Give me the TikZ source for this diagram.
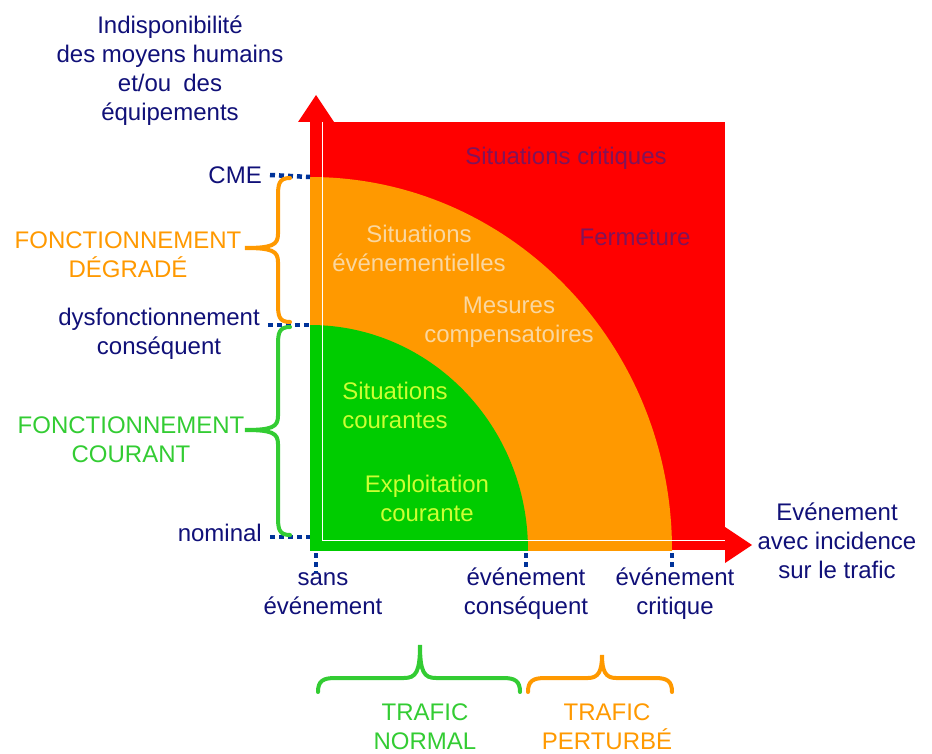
\documentclass[tikz,border=0pt]{standalone}
\usepackage{fontspec}
\setmainfont{Liberation Sans}
\usepackage{tikz}
\definecolor{bleunuit}{RGB}{16,16,120}
\definecolor{bleutick}{RGB}{0,51,153}
\definecolor{rouge}{RGB}{255,0,0}
\definecolor{orangef}{RGB}{255,153,0}
\definecolor{vertf}{RGB}{0,204,0}
\definecolor{vertc}{RGB}{51,204,51}
\definecolor{beige}{RGB}{250,215,160}
\definecolor{jaunevert}{RGB}{204,255,51}
\definecolor{pourpre}{RGB}{128,20,90}
\tikzset{
  txt/.style={inner sep=0pt, align=center, font=\fontsize{24}{29}\selectfont},
  axlabel/.style={txt, text=bleunuit},
  tick/.style={bleutick, line width=4.5pt, dash pattern=on 5pt off 4pt},
  bracket/.style={line width=4pt, line cap=round},
}

\begin{document}
\begin{tikzpicture}[x=1pt,y=-1pt]
\useasboundingbox (0,0) rectangle (932,754);
% zones
\fill[rouge] (310,122) rectangle (725,550);
\begin{scope}
\clip (310,122) rectangle (725,550);
\fill[orangef] (310,550) ellipse[x radius=362pt, y radius=373pt];
\fill[vertf] (310,550) ellipse[x radius=218pt, y radius=225pt];
\end{scope}
\draw[white, line width=1pt] (322,122) rectangle (725,540);
% fleches
\fill[rouge] (298,122) -- (316,95) -- (334,122) -- cycle;
\fill[rouge] (725,527) -- (752,545) -- (725,563) -- cycle;
\coordinate (yCME) at (310,177);
\coordinate (yDysf) at (310,325);
\coordinate (yNom) at (310,537);
\coordinate (xSans) at (316,553);
\coordinate (xCons) at (526,553);
\coordinate (xCrit) at (672,553);
% libelles des axes
\node[axlabel] (indispo) at (170,71) {Indisponibilit\'e\\des moyens humains\\et/ou\enspace des\\\'equipements};
\node[axlabel, anchor=east] (cme) at (262,175) {CME};
\node[axlabel] (dysf) at (159,334) {dysfonctionnement\\cons\'equent};
\node[axlabel, anchor=east] (nominal) at (262,533) {nominal};
\node[axlabel] (sans) at (323,594) {sans\\\'ev\'enement};
\node[axlabel] (evcons) at (526,594) {\'ev\'enement\\cons\'equent};
\node[axlabel] (evcrit) at (675,594) {\'ev\'enement\\critique};
\node[axlabel] (evt) at (837,541) {Ev\'enement\\avec incidence\\sur le trafic};
% pointilles
\draw[tick] ([xshift=8pt]cme.east) -- (yCME);
\draw[tick] ([xshift=8pt]dysf.north east |- yDysf) -- (yDysf);
\draw[tick] ([xshift=8pt]nominal.east |- yNom) -- (yNom);
\draw[tick] (xSans) -- (xSans |- sans.north);
\draw[tick] (xCons) -- (xCons |- evcons.north);
\draw[tick] (xCrit) -- (xCrit |- evcrit.north);
% accolades
\draw[bracket, orangef] (290,178) .. controls (279,178) and (278,184) .. (278,196) -- (278,234) .. controls (278,245) and (272,248) .. (245,248) .. controls (272,248) and (278,251) .. (278,262) -- (278,304) .. controls (278,316) and (279,322) .. (290,322);
\draw[bracket, vertc] (290,327) .. controls (279,327) and (278,333) .. (278,345) -- (278,416) .. controls (278,427) and (272,430) .. (245,430) .. controls (272,430) and (278,433) .. (278,444) -- (278,517) .. controls (278,529) and (279,535) .. (290,535);
\draw[bracket, vertc] (318,692) .. controls (318,681) and (323,678) .. (335,678) -- (404,678) .. controls (416,678) and (420,672) .. (420,645) .. controls (420,672) and (424,678) .. (436,678) -- (503,678) .. controls (515,678) and (520,681) .. (520,692);
\draw[bracket, orangef] (528,692) .. controls (528,681) and (533,678) .. (545,678) -- (588,678) .. controls (598,678) and (602,672) .. (602,655) .. controls (602,672) and (606,678) .. (616,678) -- (655,678) .. controls (667,678) and (672,681) .. (672,692);
\node[txt, text=orangef] (degrade) at (128,255) {FONCTIONNEMENT\\D\'EGRAD\'E};
\node[txt, text=vertc] (courant) at (131,440) {FONCTIONNEMENT\\COURANT};
\node[txt, text=vertc] (normal) at (425,727) {TRAFIC\\NORMAL};
\node[txt, text=orangef] (perturbe) at (607,727) {TRAFIC\\PERTURB\'E};
% textes des zones
\node[txt, text=pourpre] (critiques) at (566,158) {Situations critiques};
\node[txt, text=pourpre] (fermeture) at (635,237) {Fermeture};
\node[txt, text=beige] (sitev) at (419,248) {Situations\\\'ev\'enementielles};
\node[txt, text=beige] (mesures) at (509,322) {Mesures\\compensatoires};
\node[txt, text=jaunevert] (sitcour) at (395,405) {Situations\\courantes};
\node[txt, text=jaunevert] (exploit) at (427,498) {Exploitation\\courante};
\end{tikzpicture}
\end{document}
